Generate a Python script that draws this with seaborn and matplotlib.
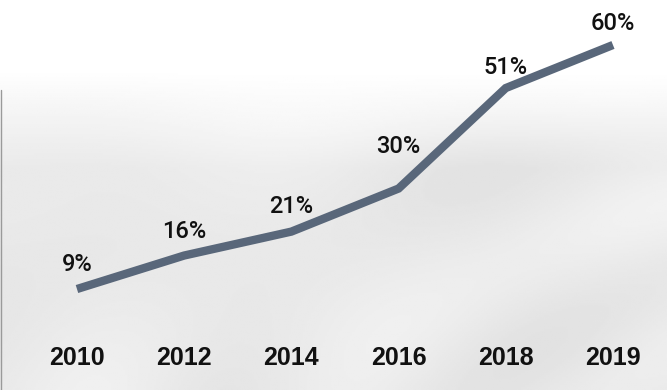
import numpy as np
import pandas as pd
import matplotlib
matplotlib.use("Agg")
from matplotlib import pyplot as plt
import seaborn as sns

# data
years = ["2010", "2012", "2014", "2016", "2018", "2019"]
share = [9, 16, 21, 30, 51, 60]
labels = ["9%", "16%", "21%", "30%", "51%", "60%"]
label_lift = [2.8, 2.6, 2.8, 6.3, 1.8, 2.0]

sns.set_theme(style="white")
plt.rcParams['font.family'] = ['Liberation Sans', 'DejaVu Sans']

df = pd.DataFrame({"year": years, "share": share})
df["pos"] = range(len(df))

fig = plt.figure(figsize=(6.67, 3.90), dpi=100)

# soft grey backdrop (white on top, misty grey below)
bg = fig.add_axes([0, 0, 1, 1], zorder=0)
yy, xx = np.mgrid[0:1:200j, 0:1:340j]
fade = np.clip((yy - 0.18) / 0.25, 0, 1)
mist = 0.5 + 0.25 * np.sin(9 * xx + 4 * yy) * np.cos(6 * yy - 3 * xx) + 0.2 * np.sin(17 * xx * yy + 2)
shade = 1.0 - fade * (0.05 + 0.07 * mist)
bg.imshow(shade, cmap="gray", vmin=0, vmax=1, aspect="auto", extent=[0, 1, 1, 0])
bg.axvline(0.002, ymin=0, ymax=0.77, color="#9a9a9a", lw=1)
bg.axis("off")

ax = fig.add_axes([0, 0.128, 1, 0.872], zorder=1)
ax.patch.set_alpha(0)
sns.lineplot(data=df, x="pos", y="share", ax=ax, color="#59677a", linewidth=6,
             solid_capstyle="butt", solid_joinstyle="miter")

for p, v, t, d in zip(df["pos"], share, labels, label_lift):
    ax.text(p, v + d, t, ha="center", va="bottom", fontsize=17,
            family=["Roboto", "Liberation Sans"], fontweight="medium", color="#111111")

ax.set_xlim(-0.718, 5.504)
ax.set_ylim(-1.67, 69.4)
ax.set_xticks(df["pos"])
ax.set_xticklabels(years, fontsize=18, fontweight="bold", color="#111111")
ax.tick_params(axis="x", length=0, pad=4)
ax.set_yticks([])
ax.set_xlabel("")
ax.set_ylabel("")
for s in ax.spines.values():
    s.set_visible(False)

plt.savefig("out.png", dpi=100)
